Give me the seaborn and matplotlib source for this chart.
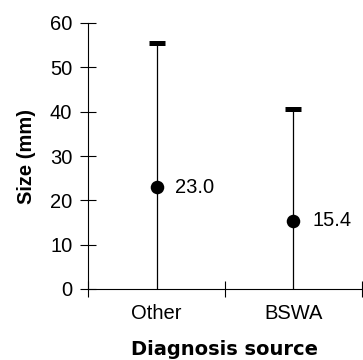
import matplotlib
matplotlib.use("Agg")
import matplotlib.pyplot as plt
import seaborn as sns
import pandas as pd

# Tumour size by diagnosis source: median with range
categories = ["Other", "BSWA"]
medians = [23.0, 15.4]
lows = [0.0, 0.0]
highs = [55.5, 40.5]
y_ticks = [0, 10, 20, 30, 40, 50, 60]

sns.set_theme(style="white", rc={
    "axes.edgecolor": "black",
    "axes.linewidth": 0.8,
    "xtick.color": "black",
    "ytick.color": "black",
    "text.color": "black",
    "axes.labelcolor": "black",
    "xtick.bottom": True,
    "ytick.left": True,
})
plt.rcParams["font.family"] = ["Liberation Sans", "DejaVu Sans"]

fig = plt.figure(figsize=(3.63, 3.60), dpi=100)
ax = fig.add_axes([88.3 / 363, 71 / 360, 273.4 / 363, 266 / 360])

pos = list(range(len(categories)))
df = pd.DataFrame({"pos": pos, "median": medians, "low": lows, "high": highs})

# range lines
ax.vlines(df["pos"], df["low"], df["high"], color="black", lw=0.9, zorder=2)
# caps at the maximum
ax.plot(df["pos"], df["high"], ls="none", marker="_", ms=11.5, mew=3.6,
        color="black", zorder=3)
# median points
sns.scatterplot(data=df, x="pos", y="median", s=95, color="black",
                edgecolor="black", linewidth=0, ax=ax, zorder=4, legend=False)

for p, m in zip(pos, medians):
    ax.annotate(f"{m:.1f}", xy=(p, m), xytext=(13.5, 0), textcoords="offset points",
                ha="left", va="center", fontsize=14.5)

ax.set_xlim(-0.5, len(categories) - 0.5)
ax.set_ylim(0, 60)
ax.set_yticks(y_ticks)
ax.set_yticklabels([str(t) for t in y_ticks], fontsize=14.5)

ax.set_xticks([i - 0.5 for i in range(len(categories) + 1)])
ax.set_xticklabels([])
ax.set_xticks(pos, minor=True)
ax.set_xticklabels(categories, minor=True, fontsize=14.5)

ax.tick_params(axis="x", which="major", bottom=True, direction="inout",
               length=11, width=0.8)
ax.tick_params(axis="x", which="minor", bottom=True, length=0, pad=11)
ax.tick_params(axis="y", which="major", left=True, direction="inout",
               length=11, width=0.8, pad=6)

for s in ("top", "right"):
    ax.spines[s].set_visible(False)

ax.set_ylabel("Size (mm)", fontsize=14.5, fontweight="bold", labelpad=10)
ax.set_xlabel("Diagnosis source", fontsize=14, fontweight="bold",
              family=["DejaVu Sans"], labelpad=12)

fig.savefig("out.png", dpi=100)
